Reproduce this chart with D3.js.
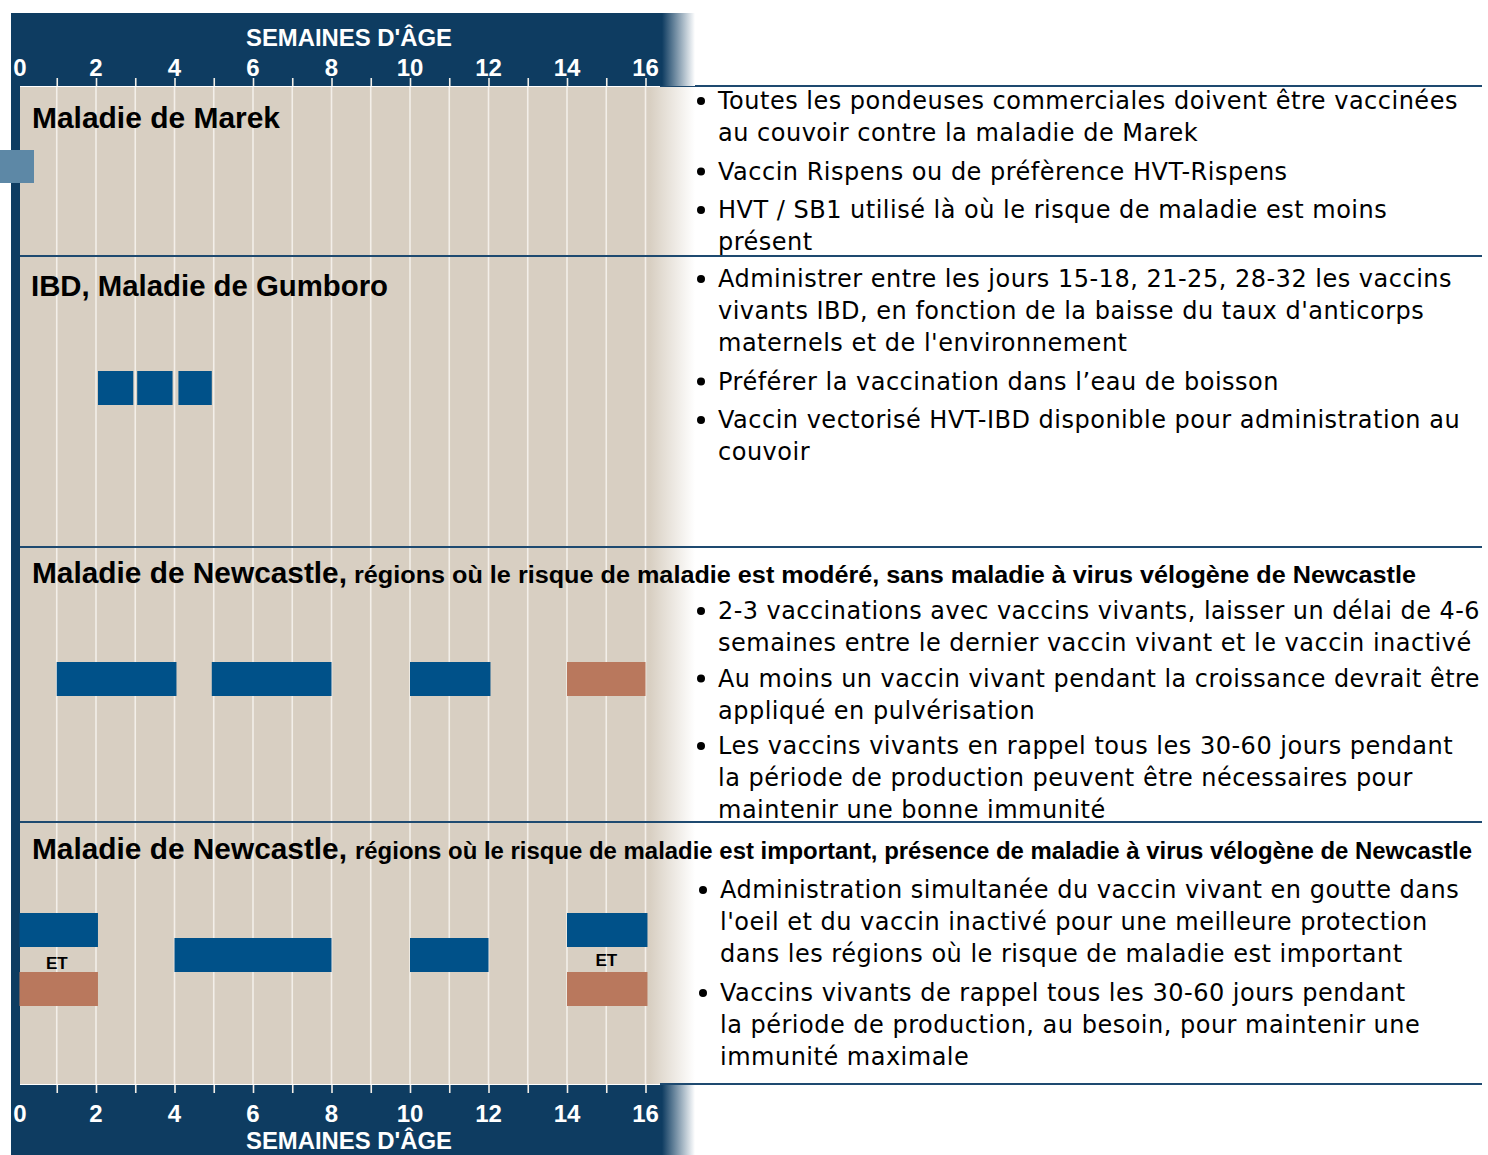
<!DOCTYPE html>
<html><head><meta charset="utf-8">
<script src="https://cdn.jsdelivr.net/npm/d3@7"></script>
<style>body{margin:0;background:#fff}svg{display:block}</style>
</head><body>
<script>
// ---------- DATA ----------
const weekTicks = d3.range(1, 17);
const tickLabels = [0, 2, 4, 6, 8, 10, 12, 14, 16];
const axisTitle = "SEMAINES D'ÂGE";

const ibdLive = [[2.05, 2.95], [3.05, 3.95], [4.1, 4.95]];
const ndModLive = [[1.0, 4.05], [4.95, 8.0], [10.0, 12.05]];
const ndModInactive = [[14.0, 16.0]];
const ndHighLiveTop = [[0.05, 2.05], [14.0, 16.05]];
const ndHighLiveMid = [[4.0, 8.0], [10.0, 12.0]];
const ndHighInactive = [[0.05, 2.05], [14.0, 16.05]];
const etLabels = [1.0, 15.0];

const titles = [
  {main: "Maladie de Marek", sub: ""},
  {main: "IBD, Maladie de Gumboro", sub: ""},
  {main: "Maladie de Newcastle,", sub: "régions où le risque de maladie est modéré, sans maladie à virus vélogène de Newcastle"},
  {main: "Maladie de Newcastle,", sub: "régions où le risque de maladie est important, présence de maladie à virus vélogène de Newcastle"}
];
const notes = [
  [["Toutes les pondeuses commerciales doivent être vaccinées", "au couvoir contre la maladie de Marek"],
   ["Vaccin Rispens ou de préfèrence HVT-Rispens"],
   ["HVT / SB1 utilisé là où le risque de maladie est moins", "présent"]],
  [["Administrer entre les jours 15-18, 21-25, 28-32 les vaccins", "vivants IBD, en fonction de la baisse du taux d'anticorps", "maternels et de l'environnement"],
   ["Préférer la vaccination dans l’eau de boisson"],
   ["Vaccin vectorisé HVT-IBD disponible pour administration au", "couvoir"]],
  [["2-3 vaccinations avec vaccins vivants, laisser un délai de 4-6", "semaines entre le dernier vaccin vivant et le vaccin inactivé"],
   ["Au moins un vaccin vivant pendant la croissance devrait être", "appliqué en pulvérisation"],
   ["Les vaccins vivants en rappel tous les 30-60 jours pendant", "la période de production peuvent être nécessaires pour", "maintenir une bonne immunité"]],
  [["Administration simultanée du vaccin vivant en goutte dans", "l'oeil et du vaccin inactivé pour une meilleure protection", "dans les régions où le risque de maladie est important"],
   ["Vaccins vivants de rappel tous les 30-60 jours pendant", "la période de production, au besoin, pour maintenir une", "immunité maximale"]]
];

// ---------- LAYOUT ----------
const W = 1488, H = 1155;
const C = {navy: "#0e3c61", blue: "#005189", salmon: "#b9785d", beige: "#d8cfc2", grid: "#f3efe9", line: "#1e4a70", marker: "#5d88a6"};
const x = d3.scaleLinear().domain([0, 16]).range([17.5, 645.5]);
const panelTop = 87, panelBot = 1084, panelL = 20, panelR = 695;
const dividers = [86, 256, 547, 822, 1084];
const headFont = "'Liberation Sans',Arial,sans-serif";
const body = "'DejaVu Sans',sans-serif";

const svg = d3.select("body").append("svg").attr("width", W).attr("height", H);
const defs = svg.append("defs");
function hgrad(id, col, x1, x2) {
  const g = defs.append("linearGradient").attr("id", id).attr("gradientUnits", "userSpaceOnUse")
    .attr("x1", x1).attr("x2", x2).attr("y1", 0).attr("y2", 0);
  g.append("stop").attr("offset", 0).attr("stop-color", col);
  g.append("stop").attr("offset", 1).attr("stop-color", "#fff");
}
hgrad("gBeige", C.beige, 650, 695);
hgrad("gNavy", C.navy, 662, 695);

// panel
svg.append("rect").attr("x", panelL).attr("y", panelTop).attr("width", panelR - panelL).attr("height", panelBot - panelTop).attr("fill", "url(#gBeige)");
// grid
svg.append("g").selectAll("line").data(weekTicks).join("line")
  .attr("x1", d => x(d)).attr("x2", d => x(d)).attr("y1", panelTop).attr("y2", panelBot)
  .attr("stroke", C.grid).attr("stroke-width", 1.6);
// dividers
svg.append("g").selectAll("line").data(dividers).join("line")
  .attr("x1", (d, i) => (i === 0 || i === 4) ? 660 : panelL).attr("x2", 1482)
  .attr("y1", d => d).attr("y2", d => d).attr("stroke", C.line).attr("stroke-width", 2);
// left bar
svg.append("rect").attr("x", 11).attr("y", 13).attr("width", 9).attr("height", 1142).attr("fill", C.navy);

// headers
function header(y0, h, top) {
  const g = svg.append("g");
  g.append("rect").attr("x", 11).attr("y", y0).attr("width", panelR - 11).attr("height", h).attr("fill", "url(#gNavy)");
  const ax = top ? d3.axisTop(x) : d3.axisBottom(x);
  ax.tickValues(weekTicks).tickSize(8).tickFormat("");
  const ag = g.append("g").attr("transform", `translate(0,${top ? 86 : 1085})`).call(ax);
  ag.select(".domain").remove();
  ag.selectAll(".tick line").attr("stroke", C.grid).attr("stroke-width", 1.6);
  g.append("g").selectAll("text").data(tickLabels).join("text")
    .attr("x", d => x(d) + (d === 0 ? 2.5 : 0)).attr("y", top ? 76 : 1122)
    .attr("text-anchor", "middle").attr("fill", "#fff")
    .attr("font-family", headFont).attr("font-weight", "bold").attr("font-size", 24)
    .text(d => d);
  g.append("text").attr("x", 349).attr("y", top ? 46 : 1149).attr("text-anchor", "middle")
    .attr("fill", "#fff").attr("font-family", headFont).attr("font-weight", "bold").attr("font-size", 24)
    .attr("textLength", 206).attr("lengthAdjust", "spacingAndGlyphs").text(axisTitle);
}
header(13, 73, true);
header(1085, 70, false);

// marker
svg.append("rect").attr("x", 0).attr("y", 150).attr("width", 34).attr("height", 33).attr("fill", C.marker);

// bars
function bars(data, y, h, col) {
  svg.append("g").selectAll("rect").data(data).join("rect")
    .attr("x", d => x(d[0])).attr("width", d => x(d[1]) - x(d[0]))
    .attr("y", y).attr("height", h).attr("fill", col);
}
bars(ibdLive, 371, 34, C.blue);
bars(ndModLive, 662, 34, C.blue);
bars(ndModInactive, 662, 34, C.salmon);
bars(ndHighLiveTop, 913, 34, C.blue);
bars(ndHighLiveMid, 938, 34, C.blue);
bars(ndHighInactive, 972, 34, C.salmon);
svg.append("g").selectAll("text").data(etLabels).join("text")
  .attr("x", d => x(d)).attr("y", (d, i) => i === 0 ? 969 : 966).attr("text-anchor", "middle")
  .attr("font-family", headFont).attr("font-weight", "bold").attr("font-size", 17)
  .text("ET");

// titles
const titleY = [128, 296, 583, 859];
const titleX = [32, 31, 32, 32];
const mainLen = [248, 357, 315, 315];
const subX = [0, 0, 354, 355];
const subLen = [0, 0, 1062, 1117];
titles.forEach((t, i) => {
  svg.append("text").attr("x", titleX[i]).attr("y", titleY[i])
    .attr("font-family", headFont).attr("font-weight", "bold").attr("font-size", 29)
    .attr("textLength", mainLen[i]).attr("lengthAdjust", "spacingAndGlyphs").text(t.main);
  if (t.sub) svg.append("text").attr("x", subX[i]).attr("y", titleY[i])
    .attr("font-family", headFont).attr("font-weight", "bold").attr("font-size", 23)
    .attr("textLength", subLen[i]).attr("lengthAdjust", "spacingAndGlyphs").text(t.sub);
});

// notes
const noteStart = [109, 287, 619, 898];
const bulletGap = [6.5, 6.5, 3.5, 7];
const bulletX = [701, 701, 701, 703];
const rightLimit = 1480;
notes.forEach((sec, i) => {
  let y = noteStart[i];
  const g = svg.append("g").attr("font-family", body).attr("font-size", 24).attr("letter-spacing", 0.5).attr("fill", "#000");
  sec.forEach(b => {
    g.append("circle").attr("cx", bulletX[i]).attr("cy", y - 8).attr("r", 4).attr("fill", "#000");
    b.forEach(line => {
      const tx = bulletX[i] + 17;
      const t = g.append("text").attr("x", tx).attr("y", y).text(line);
      const w = t.node().getComputedTextLength();
      if (tx + w > rightLimit) t.attr("textLength", rightLimit - tx).attr("lengthAdjust", "spacingAndGlyphs");
      y += 32;
    });
    y += bulletGap[i];
  });
});
</script>
</body></html>
